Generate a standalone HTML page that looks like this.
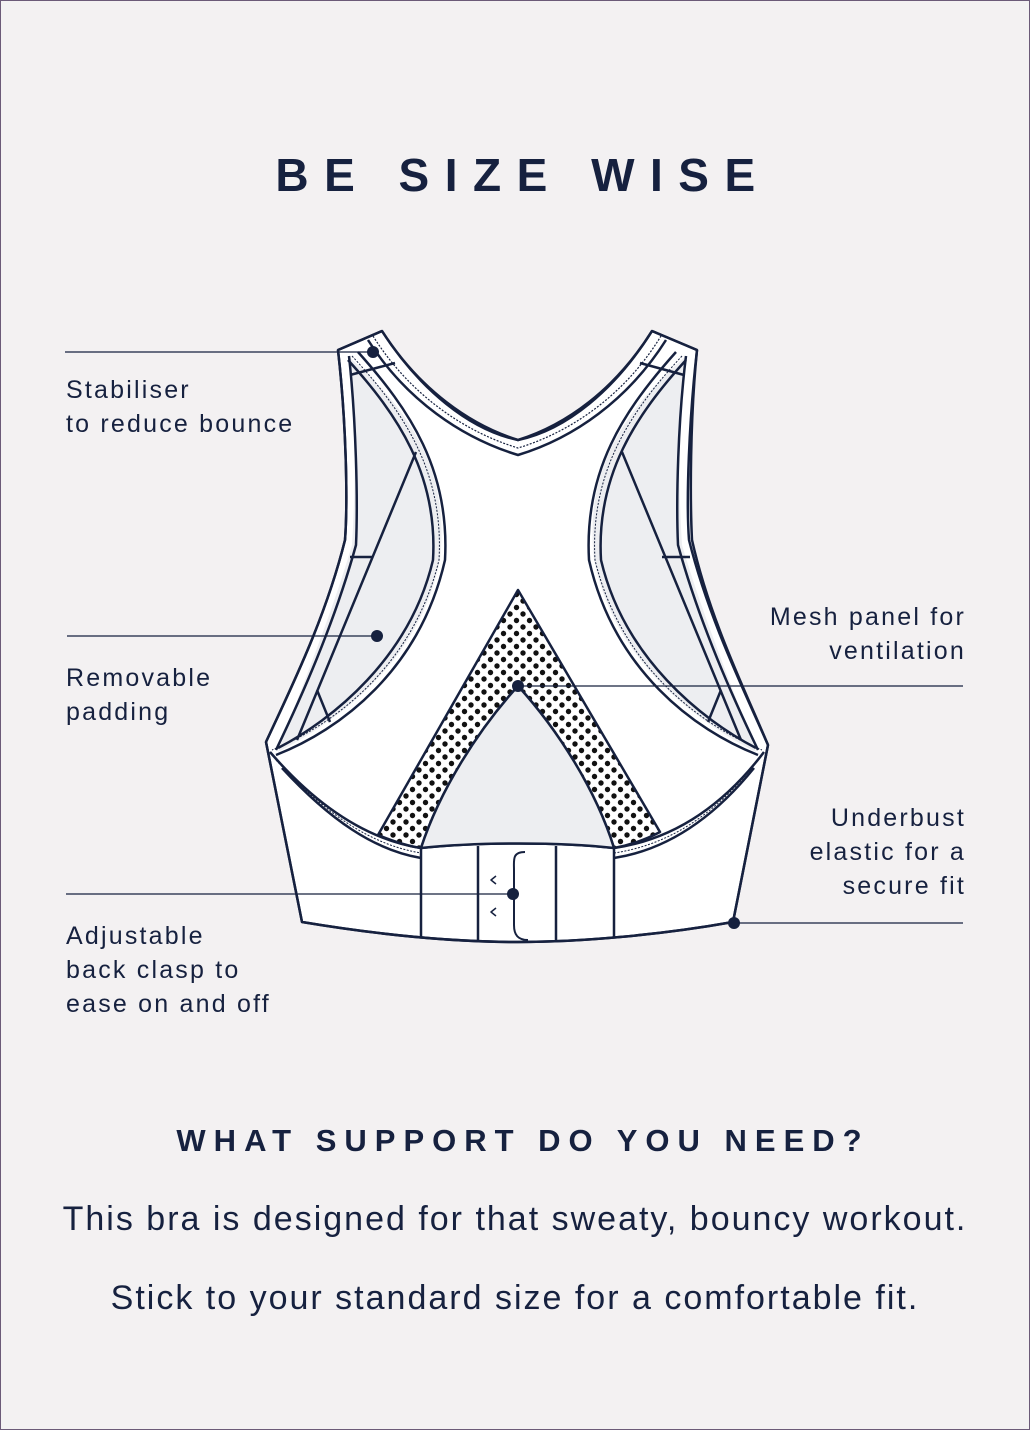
<!DOCTYPE html>
<html><head><meta charset="utf-8"><style>
html,body{margin:0;padding:0}
body{width:1030px;height:1430px;background:#f3f1f2;position:relative;overflow:hidden;font-family:"Liberation Sans",sans-serif;color:#16213f}
.frame{position:absolute;left:0;top:0;width:1028px;height:1428px;border:1px solid #6b5a78}
.t{position:absolute;white-space:nowrap}
.lbl{font-size:25px;line-height:34px;letter-spacing:2.2px}
</style></head><body>
<div class="frame"></div>
<div class="t" style="left:0;width:1030px;text-align:center;top:148px;font-size:46px;font-weight:bold;letter-spacing:15.5px;padding-left:8px">BE SIZE WISE</div>
<svg width="1030" height="1430" style="position:absolute;left:0;top:0">
<defs>
<pattern id="dots" width="13" height="13" patternUnits="userSpaceOnUse">
<rect width="13" height="13" fill="#fff"/><circle cx="3" cy="3" r="2.7" fill="#111"/><circle cx="9.5" cy="9.5" r="2.7" fill="#111"/>
</pattern>
</defs>
<g stroke="#16213f" stroke-width="2.5" fill="none" stroke-linejoin="round">
<path d="M338,350 L382,331 C420,390 470,430 518,440 C566,430 615,390 652,331 L697,350 C690,420 690,500 692,540 C710,620 745,690 768,745 L733,922 C660,935 580,942 518,942 C455,942 380,935 302,922 L266,742 C290,690 325,620 345,540 C348,500 346,420 338,350 Z" fill="#fff"/>
<path d="M348,356 C410,410 450,470 440,560 C420,660 340,720 278,752 C300,690 330,620 352,545 C356,480 356,420 348,356 Z" fill="#edeef1" stroke="none"/>
<path d="M686,356 C624,410 584,470 594,560 C614,660 694,720 756,752 C734,690 704,620 682,545 C678,480 678,420 686,356 Z" fill="#edeef1" stroke="none"/>
<path d="M338,350 C346,420 348,500 345,540 C325,620 290,690 266,742"/>
<path d="M349,356 C356,420 358,500 356,545 C334,625 300,700 276,750"/>
<path d="M697,350 C689,420 686,500 689,540 C709,620 744,690 768,745"/>
<path d="M686,356 C678,420 676,500 678,545 C700,625 734,700 758,750"/>
<path d="M338,350 L382,331 M652,331 L697,350"/>
<path d="M350,375 L395,363 M640,363 L684,375"/>
<path d="M382,331 C420,390 470,425 518,440 C566,425 615,390 652,331"/>
<path d="M373,336 C410,395 465,432 518,448 C571,432 625,395 661,336" stroke-width="1.2" stroke-dasharray="2 1.5"/>
<path d="M368,340 C406,400 462,438 518,455 C574,438 628,400 666,340"/>
<path d="M358,352 C410,410 450,470 445,560 C420,670 340,730 276,755"/>
<path d="M352,356 C404,412 444,472 439,560 C414,664 336,724 272,750" stroke-width="1" stroke-dasharray="2 1.5"/>
<path d="M348,360 C398,415 438,475 433,560 C410,658 332,720 278,748"/>
<path d="M676,352 C624,410 584,470 589,560 C614,670 694,730 758,755"/>
<path d="M682,356 C630,412 590,472 595,560 C620,664 698,724 762,750" stroke-width="1" stroke-dasharray="2 1.5"/>
<path d="M686,360 C636,415 596,475 601,560 C624,658 702,720 756,748"/>
<path d="M416,452 L297,740 M317,690 L330,722 M350,557 L372,557"/>
<path d="M622,452 L741,740 M721,690 L708,722 M662,557 L690,557"/>
<path d="M270,752 C320,810 370,840 421,848 C480,842 560,842 614,848 C670,840 720,810 764,752"/>
<path d="M276,760 C326,815 372,845 421,853 M614,853 C668,845 716,815 758,760" stroke-width="1" stroke-dasharray="2 1.5"/>
<path d="M282,768 C330,820 374,850 421,858 M614,858 C666,850 712,820 754,768"/>
<path d="M518,590 L378,835 C395,842 408,846 421,848 C440,790 478,730 518,686 C558,730 596,790 614,848 C630,845 645,840 660,832 Z" fill="url(#dots)"/>
<path d="M421,848 C440,790 478,730 518,686 C558,730 596,790 614,848 C560,842 480,842 421,848 Z" fill="#edeef1"/>
<path d="M266,742 L302,922 C380,935 455,942 518,942 C580,942 660,935 733,922 L768,745"/>
<path d="M421,848 L421,938 M478,846 L478,941 M556,846 L556,941 M614,848 L614,938"/>
<path d="M525,852 C512,852 514,860 514,870 L514,925 C514,935 518,940 528,940" stroke-width="2"/>
<path d="M496,876 L491,880 L496,884 M496,908 L491,912 L496,916" stroke-width="1.5"/>
</g>
<g stroke="#16213f" stroke-width="1.2">
<line x1="65" y1="352" x2="373" y2="352"/>
<line x1="67" y1="636" x2="377" y2="636"/>
<line x1="66" y1="894" x2="513" y2="894"/>
<line x1="518" y1="686" x2="963" y2="686"/>
<line x1="734" y1="923" x2="963" y2="923"/>
</g>
<g fill="#16213f">
<circle cx="373" cy="352" r="6"/><circle cx="377" cy="636" r="6"/><circle cx="513" cy="894" r="6"/><circle cx="518" cy="686" r="6"/><circle cx="734" cy="923" r="6"/>
</g>
</svg>
<div class="t lbl" style="left:66px;top:373px">Stabiliser<br>to reduce bounce</div>
<div class="t lbl" style="left:66px;top:661px">Removable<br>padding</div>
<div class="t lbl" style="left:66px;top:919px">Adjustable<br>back clasp to<br>ease on and off</div>
<div class="t lbl" style="right:64px;top:600px;text-align:right">Mesh panel for<br>ventilation</div>
<div class="t lbl" style="right:64px;top:801px;text-align:right">Underbust<br>elastic for a<br>secure fit</div>
<div class="t" style="left:0;width:1030px;text-align:center;top:1123px;font-size:31px;font-weight:bold;letter-spacing:8px;padding-left:8px">WHAT SUPPORT DO YOU NEED?</div>
<div class="t" style="left:0;width:1030px;text-align:center;top:1200px;font-size:34px;letter-spacing:2px">This bra is designed for that sweaty, bouncy workout.</div>
<div class="t" style="left:0;width:1030px;text-align:center;top:1279px;font-size:34px;letter-spacing:2px">Stick to your standard size for a comfortable fit.</div>
</body></html>
